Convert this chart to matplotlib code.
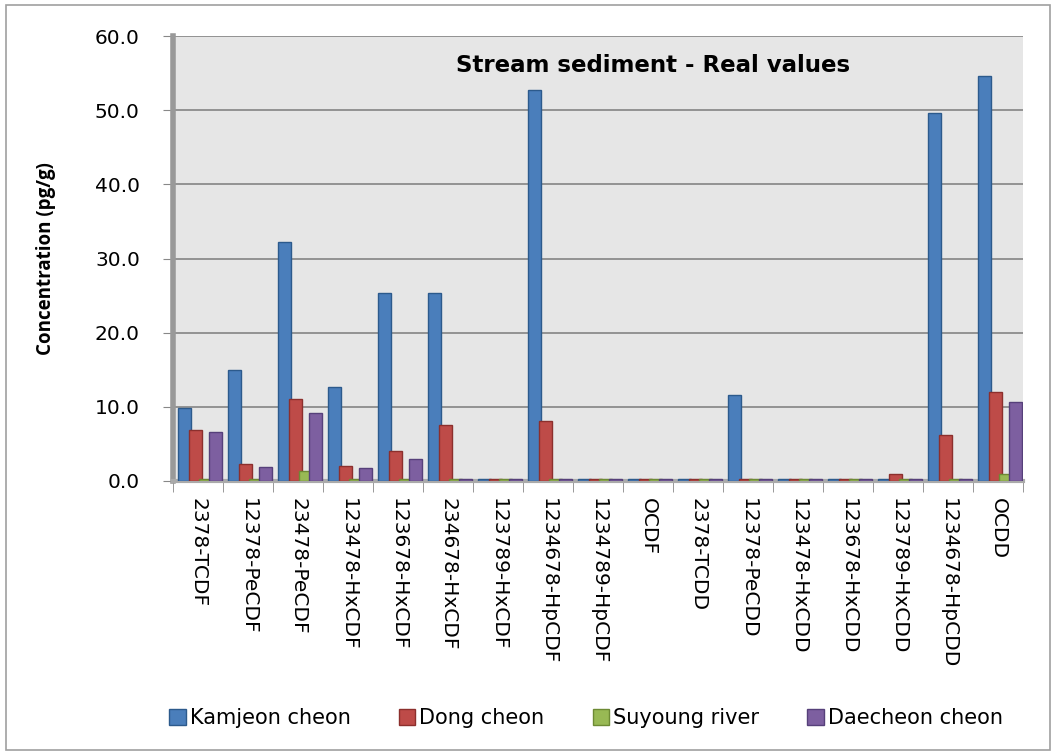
import matplotlib
matplotlib.use("Agg")
import matplotlib.pyplot as plt
import numpy as np
from matplotlib.patches import Rectangle

categories = ["2378-TCDF", "12378-PeCDF", "23478-PeCDF", "123478-HxCDF", "123678-HxCDF",
              "234678-HxCDF", "123789-HxCDF", "1234678-HpCDF", "1234789-HpCDF", "OCDF",
              "2378-TCDD", "12378-PeCDD", "123478-HxCDD", "123678-HxCDD", "123789-HxCDD",
              "1234678-HpCDD", "OCDD"]
series_names = ["Kamjeon cheon", "Dong cheon", "Suyoung river", "Daecheon cheon"]
kamjeon = [9.8, 15.0, 32.3, 12.7, 25.3, 25.3, 0.2, 52.8, 0.2, 0.2, 0.2, 11.6, 0.2, 0.2, 0.2, 49.6, 54.6]
dong = [6.9, 2.3, 11.0, 2.0, 4.0, 7.5, 0.2, 8.1, 0.2, 0.2, 0.2, 0.2, 0.2, 0.2, 1.0, 6.2, 12.0]
suyoung = [0.3, 0.3, 1.3, 0.3, 0.3, 0.2, 0.2, 0.2, 0.2, 0.2, 0.2, 0.2, 0.2, 0.2, 0.2, 0.2, 1.0]
daecheon = [6.6, 1.9, 9.2, 1.8, 3.0, 0.2, 0.2, 0.2, 0.2, 0.2, 0.2, 0.2, 0.2, 0.2, 0.2, 0.2, 10.6]
colors = ["#4a7ebb", "#be4b48", "#98b954", "#7d5fa0"]
edges = ["#2c5a8c", "#8c2f2d", "#6d8a34", "#56407a"]

fig = plt.figure(figsize=(10.56, 7.55), dpi=100)
fig.patches.append(Rectangle((0.006, 0.006), 0.988, 0.988, transform=fig.transFigure,
                             fill=False, edgecolor="#a0a0a0", lw=1.2))
ax = fig.add_axes([0.164, 0.363, 0.805, 0.589])
ax.set_facecolor("#e6e6e6")

x = np.arange(len(categories))
w = 0.26
offs = [-0.28, -0.06, 0.14, 0.34]
for i, vals in enumerate([kamjeon, dong, suyoung, daecheon]):
    ax.bar(x + offs[i], vals, width=w, color=colors[i], edgecolor=edges[i], lw=1.0,
           label=series_names[i], zorder=3)

ax.set_xlim(-0.5, len(categories) - 0.5)
ax.set_ylim(0, 60)
ax.set_yticks(np.arange(0, 61, 10))
ax.set_yticklabels([f"{v:.1f}" for v in np.arange(0, 61, 10)], fontsize=14.5,
                   family="DejaVu Sans")
ax.yaxis.grid(True, color="#8c8c8c", lw=1.3, zorder=1)
ax.set_xticks(np.arange(len(categories) + 1) - 0.5, minor=True)
ax.set_xticks(x)
ax.set_xticklabels(categories, rotation=-90, fontsize=14.5, family="DejaVu Sans",
                   va="top", ha="center")
ax.tick_params(axis="x", which="major", length=0, pad=12)
ax.tick_params(axis="x", which="minor", length=8, color="#888888")
ax.tick_params(axis="y", length=7, color="#888888", pad=17)
for s in ["top", "right"]:
    ax.spines[s].set_visible(False)
ax.spines["left"].set_color("#999999")
ax.spines["left"].set_linewidth(4)
ax.spines["bottom"].set_color("#aaaaaa")
ax.spines["bottom"].set_linewidth(3)

ax.text(0.565, 0.935, "Stream sediment - Real values", transform=ax.transAxes,
        ha="center", va="center", fontsize=16.5, fontweight="bold", family="DejaVu Sans")
ax.set_ylabel("Concentration (pg/g)", fontsize=13.5, fontweight="bold", family="Open Sans",
              labelpad=28)

fig.legend(loc="center", bbox_to_anchor=(0.555, 0.049), ncol=4, frameon=False,
           prop={"family": "DejaVu Sans", "size": 15}, handlelength=0.8,
           handleheight=0.8, handletextpad=0.2, columnspacing=2.3)

fig.savefig("out.png", dpi=100)
